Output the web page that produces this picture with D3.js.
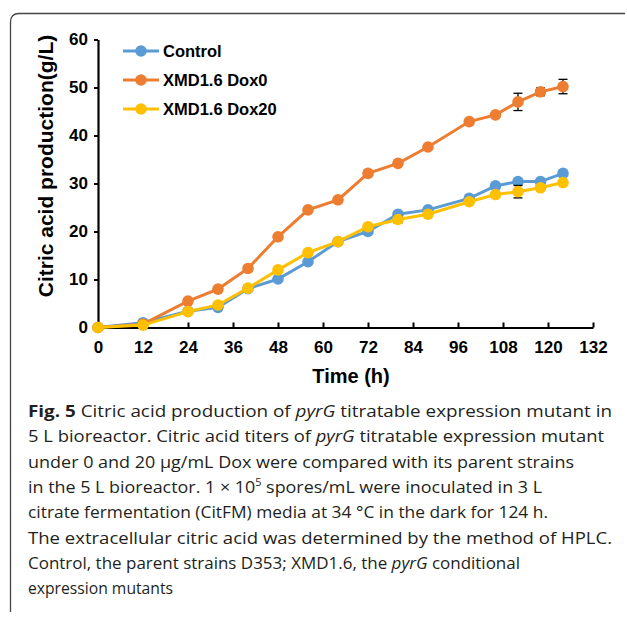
<!DOCTYPE html>
<html>
<head>
<meta charset="utf-8">
<script src="https://cdn.jsdelivr.net/npm/d3@7"></script>
<style>
  body { margin: 0; background: #fff; }
  svg { display: block; }
</style>
</head>
<body>
<div id="chart"></div>
<script>
// data
var hours = [0, 12, 24, 32, 40, 48, 56, 64, 72, 80, 88, 99, 106, 112, 118, 124];
var control = [0, 1.0, 3.4, 4.2, 8.1, 10.1, 13.7, 17.9, 20.0, 23.6, 24.5, 26.9, 29.5, 30.4, 30.4, 32.1];
var dox0 = [0, 0.7, 5.5, 8.0, 12.3, 18.9, 24.5, 26.6, 32.1, 34.2, 37.6, 42.9, 44.3, 47.0, 49.1, 50.2];
var dox20 = [0, 0.5, 3.3, 4.7, 8.2, 12.0, 15.6, 17.9, 21.0, 22.5, 23.6, 26.2, 27.7, 28.3, 29.1, 30.2];
var controlErr = [0, 0, 0, 0, 0, 0, 0, 0, 0, 0, 0, 0, 0, 0.5, 0, 0];
var dox0Err = [0, 0, 0, 0, 0, 0, 0, 0, 0, 0, 0, 0, 0, 1.8, 0.8, 1.5];
var dox20Err = [0, 0, 0, 0, 0, 0, 0, 0, 0, 0.7, 0, 0, 0, 1.3, 0, 0];
var seriesNames = ["Control", "XMD1.6 Dox0", "XMD1.6 Dox20"];
var seriesColors = ["#5b9bd5", "#ed7d31", "#ffc000"];
var xTicks = [0, 12, 24, 36, 48, 60, 72, 84, 96, 108, 120, 132];
var yTicks = [0, 10, 20, 30, 40, 50, 60];

var W = 627, H = 617;
var svg = d3.select("#chart").append("svg")
    .attr("width", W).attr("height", H);

// frame round the figure
svg.append("path")
    .attr("d", "M10.5,612 L10.5,22 Q10.5,13.5 19,13.5 L625,13.5")
    .attr("fill", "none")
    .attr("stroke", "#444")
    .attr("stroke-width", 1.3);

var x = d3.scaleLinear().domain([0, 132]).range([98, 593]);
var y = d3.scaleLinear().domain([0, 60]).range([327.5, 39.5]);

var font = "'Liberation Sans', Arial, sans-serif";

// x axis, ticks pointing up
var xAxis = svg.append("g")
    .attr("transform", "translate(0," + y(0) + ")")
    .call(d3.axisBottom(x).tickValues(xTicks).tickSizeInner(-5).tickSizeOuter(0).tickPadding(13));
// y axis
var yAxis = svg.append("g")
    .attr("transform", "translate(" + x(0) + ",0)")
    .call(d3.axisLeft(y).tickValues(yTicks).tickSizeInner(4).tickSizeOuter(0).tickPadding(6));

[xAxis, yAxis].forEach(function(a) {
  a.select(".domain").attr("stroke", "#000").attr("stroke-width", 2.2);
  a.selectAll(".tick line").attr("stroke", "#000").attr("stroke-width", 2);
  a.selectAll(".tick text")
      .attr("fill", "#000")
      .attr("font-family", font)
      .attr("font-weight", "bold")
      .attr("font-size", "17px");
});

svg.append("text")
    .attr("x", 351).attr("y", 383)
    .attr("text-anchor", "middle")
    .attr("font-family", font).attr("font-weight", "bold").attr("font-size", "20px")
    .text("Time (h)");

svg.append("text")
    .attr("transform", "translate(53,166) rotate(-90)")
    .attr("text-anchor", "middle")
    .attr("font-family", font).attr("font-weight", "bold").attr("font-size", "21px")
    .text("Citric acid production(g/L)");

var series = [
  {name: seriesNames[0], color: seriesColors[0], v: control, e: controlErr},
  {name: seriesNames[1], color: seriesColors[1], v: dox0, e: dox0Err},
  {name: seriesNames[2], color: seriesColors[2], v: dox20, e: dox20Err}
];

var line = d3.line()
    .x(function(d) { return x(d.h); })
    .y(function(d) { return y(d.v); });

series.forEach(function(s) {
  var pts = hours.map(function(h, i) { return {h: h, v: s.v[i], e: s.e[i]}; });
  var g = svg.append("g");
  g.append("path")
      .datum(pts)
      .attr("d", line)
      .attr("fill", "none")
      .attr("stroke", s.color)
      .attr("stroke-width", 3);

  var eb = g.selectAll(".err")
      .data(pts.filter(function(d) { return d.e > 0; }))
      .enter().append("g");
  eb.append("line")
      .attr("x1", function(d) { return x(d.h); })
      .attr("x2", function(d) { return x(d.h); })
      .attr("y1", function(d) { return y(d.v - d.e); })
      .attr("y2", function(d) { return y(d.v + d.e); })
      .attr("stroke", "#000").attr("stroke-width", 1.3);
  [-1, 1].forEach(function(sg) {
    eb.append("line")
        .attr("x1", function(d) { return x(d.h) - 4.5; })
        .attr("x2", function(d) { return x(d.h) + 4.5; })
        .attr("y1", function(d) { return y(d.v + sg * d.e); })
        .attr("y2", function(d) { return y(d.v + sg * d.e); })
        .attr("stroke", "#000").attr("stroke-width", 1.3);
  });

  g.selectAll("circle")
      .data(pts)
      .enter().append("circle")
      .attr("cx", function(d) { return x(d.h); })
      .attr("cy", function(d) { return y(d.v); })
      .attr("r", 5.8)
      .attr("fill", s.color);
});

// legend
var legend = svg.append("g");
series.forEach(function(s, i) {
  var ly = 51 + i * 29;
  legend.append("line")
      .attr("x1", 123).attr("x2", 159).attr("y1", ly).attr("y2", ly)
      .attr("stroke", s.color).attr("stroke-width", 3);
  legend.append("circle")
      .attr("cx", 141).attr("cy", ly).attr("r", 5.8).attr("fill", s.color);
  legend.append("text")
      .attr("x", 163).attr("y", ly + 6)
      .attr("font-family", font).attr("font-weight", "bold").attr("font-size", "16.5px")
      .text(s.name);
});

// caption
var capFont = "'Open Sans', 'Noto Sans', sans-serif";
var caption = [
  {w: 584, parts: [["Fig. 5", "b"], ["  Citric acid production of ", ""], ["pyrG", "i"], [" titratable expression mutant in", ""]]},
  {w: 576, parts: [["5 L bioreactor. Citric acid titers of ", ""], ["pyrG", "i"], [" titratable expression mutant", ""]]},
  {w: 546, parts: [["under 0 and 20 \u03bcg/mL Dox were compared with its parent strains", ""]]},
  {w: 514, parts: [["in the 5 L bioreactor. 1 \u00d7 10", ""], ["5", "sup"], [" spores/mL were inoculated in 3 L", ""]]},
  {w: 520, parts: [["citrate fermentation (CitFM) media at 34 \u00b0C in the dark for 124 h.", ""]]},
  {w: 584, parts: [["The extracellular citric acid was determined by the method of HPLC.", ""]]},
  {w: 492, parts: [["Control, the parent strains D353; XMD1.6, the ", ""], ["pyrG", "i"], [" conditional", ""]]},
  {w: 145, parts: [["expression mutants", ""]]}
];
caption.forEach(function(c, i) {
  var t = svg.append("text")
      .attr("x", 28).attr("y", 417 + i * 25.3)
      .attr("font-family", capFont).attr("font-size", "16.5px")
      .attr("fill", "#231f20")
      .attr("textLength", c.w)
      .attr("lengthAdjust", "spacingAndGlyphs");
  c.parts.forEach(function(p) {
    var ts = t.append("tspan").text(p[0]);
    if (p[1] === "b") ts.attr("font-weight", "bold");
    if (p[1] === "i") ts.attr("font-style", "italic");
    if (p[1] === "sup") {
      ts.attr("font-size", "10px").attr("dy", -7);
    }
    if (p[1] === "" && i === 3 && p[0].indexOf("spores") >= 0) ts.attr("dy", 7);
  });
});
</script>
</body>
</html>
